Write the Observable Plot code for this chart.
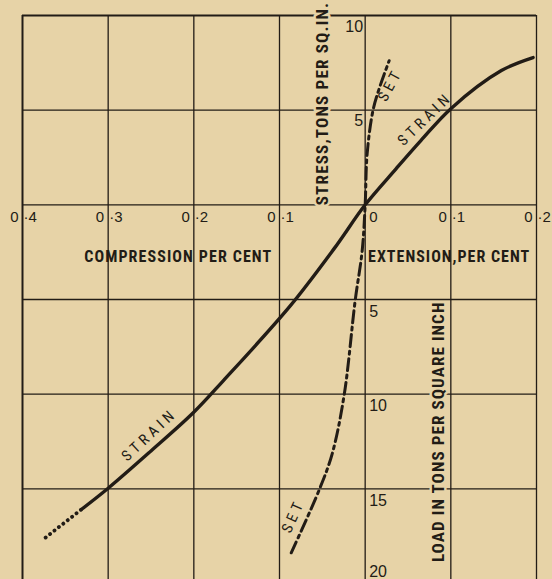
<!DOCTYPE html>
<html><head><meta charset="utf-8">
<script src="https://cdn.jsdelivr.net/npm/d3@7"></script>
<script src="https://cdn.jsdelivr.net/npm/@observablehq/plot@0.6"></script>
<style>html,body{margin:0;padding:0;background:#e7d3a7;overflow:hidden}</style>
</head><body><div id="chart"></div>
<script>
// ---- data ----
const xTicks = [-0.4, -0.3, -0.2, -0.1, 0, 0.1, 0.2];
const xTickLabels = ["0·4", "0·3", "0·2", "0·1", "0", "0·1", "0·2"];
const gridY = [10, 5, 0, -5, -10, -15];
const stressTicks = [10, 5];
const stressLabels = ["10", "5"];
const loadTicks = [5, 10, 15];
const loadLabels = ["5", "10", "15"];
const loadLast = 20;

const strainX = [-0.373, -0.331, -0.300, -0.250, -0.201, -0.166, -0.0875, -0.036, 0, 0.036, 0.065, 0.100, 0.159, 0.196];
const strainY = [-17.57, -16.08, -14.97, -13.0, -11.0, -9.31, -5.34, -2.3, 0, 1.90, 3.39, 5.08, 7.09, 7.78];
const strainDottedCount = 2; // first points drawn dotted

const setX = [-0.0863, -0.0537, -0.0385, -0.0245, -0.0117, -0.0035, 0, 0.0023, 0.0093, 0.0175, 0.028];
const setY = [-18.38, -15.06, -13.15, -10.04, -5.07, -2.43, 0, 2.69, 5.02, 6.29, 7.61];

// ---- styles ----
const BG = "#e7d3a7", INK = "#221c16";
const NARROW = '"Liberation Sans Narrow", "Arial Narrow", "Roboto Condensed", "DejaVu Sans Condensed", sans-serif';
const REG = '"Liberation Sans", Arial, sans-serif';

const strain = strainX.map((x, i) => ({x, y: strainY[i]}));
const set = setX.map((x, i) => ({x, y: setY[i]}));
const xl = xTicks.map((v, i) => {
  const [w, f] = xTickLabels[i].split("·");
  return {v, whole: w, frac: f === undefined ? null : "·" + f};
});

const tag = (name) => () => name;

const chart = Plot.plot({
  width: 552, height: 579,
  marginLeft: 22, marginRight: 16, marginTop: 15, marginBottom: 0,
  x: {domain: [-0.4, 0.2], axis: null},
  y: {domain: [-19.79, 10], axis: null},
  style: {background: BG, overflow: "visible"},
  marks: [
    Plot.ruleX(xTicks, {x: d => d, stroke: INK, strokeWidth: d => (d === -0.4 ? 2 : 1.3)}),
    Plot.ruleY(gridY, {y: d => d, stroke: INK, strokeWidth: d => (d === 10 ? 2 : 1.3)}),
    // vertical titles with halo
    Plot.text(["STRESS,TONS PER SQ.IN."], {x: -0.0502, y: 5.35, text: d => d, rotate: -90,
      fontFamily: NARROW, fontSize: 17, fontWeight: "bold", fill: INK, stroke: BG, strokeWidth: 5,
      paintOrder: "stroke", lineAnchor: "middle", ariaLabel: tag("t12")}),
    Plot.text(["LOAD IN TONS PER SQUARE INCH"], {x: 0.0852, y: -11.99, text: d => d, rotate: -90,
      fontFamily: NARROW, fontSize: 17, fontWeight: "bold", fill: INK, stroke: BG, strokeWidth: 5,
      paintOrder: "stroke", lineAnchor: "middle", ariaLabel: tag("t11")}),
    Plot.text(["COMPRESSION PER CENT"], {x: -0.2182, y: -2.75, text: d => d,
      fontFamily: NARROW, fontSize: 16, fontWeight: "bold", fill: INK, lineAnchor: "middle", ariaLabel: tag("t11")}),
    Plot.text(["EXTENSION,PER CENT"], {x: 0.098, y: -2.75, text: d => d,
      fontFamily: NARROW, fontSize: 16, fontWeight: "bold", fill: INK, lineAnchor: "middle", ariaLabel: tag("t10")}),
    // curves
    Plot.line(strain.slice(0, strainDottedCount), {x: "x", y: "y", stroke: INK, strokeWidth: 3.8,
      strokeDasharray: "0.1,5.5", strokeLinecap: "round"}),
    Plot.line(strain.slice(strainDottedCount - 1), {x: "x", y: "y", stroke: INK, strokeWidth: 3.4, curve: "catmull-rom"}),
    Plot.line(set, {x: "x", y: "y", stroke: INK, strokeWidth: 3, strokeDasharray: "12,4.5,3,4.5", curve: "catmull-rom"}),
    // curve labels
    Plot.text(["STRAIN"], {x: 0.070, y: 4.54, text: d => d, rotate: -44, fontFamily: NARROW, fontSize: 15,
      fill: INK, lineAnchor: "middle", ariaLabel: tag("t40")}),
    Plot.text(["STRAIN"], {x: -0.252, y: -12.15, text: d => d, rotate: -43, fontFamily: NARROW, fontSize: 15,
      fill: INK, lineAnchor: "middle", ariaLabel: tag("t40")}),
    Plot.text(["SET"], {x: 0.0292, y: 6.34, text: d => d, rotate: -62, fontFamily: NARROW, fontSize: 15,
      fill: INK, lineAnchor: "middle", ariaLabel: tag("t40")}),
    Plot.text(["SET"], {x: -0.084, y: -16.43, text: d => d, rotate: -66, fontFamily: NARROW, fontSize: 15,
      fill: INK, lineAnchor: "middle", ariaLabel: tag("t40")}),
    // x tick labels
    Plot.text(xl.filter(d => d.frac), {x: "v", y: 0, text: "whole", textAnchor: "end", dx: -4, dy: 12,
      fontFamily: REG, fontSize: 15, fill: INK, lineAnchor: "middle"}),
    Plot.text(xl.filter(d => d.frac), {x: "v", y: 0, text: "frac", textAnchor: "start", dx: 1, dy: 12,
      fontFamily: REG, fontSize: 15, fill: INK, lineAnchor: "middle"}),
    Plot.text(xl.filter(d => !d.frac), {x: "v", y: 0, text: "whole", textAnchor: "start", dx: 4, dy: 12,
      fontFamily: REG, fontSize: 15, fill: INK, lineAnchor: "middle"}),
    // y tick labels
    Plot.text(stressTicks, {x: 0, y: d => d, text: (d, i) => stressLabels[i], textAnchor: "end", dx: -2, dy: 11,
      fontFamily: REG, fontSize: 16, fill: INK, lineAnchor: "middle"}),
    Plot.text(loadTicks, {x: 0, y: d => -d, text: (d, i) => loadLabels[i], textAnchor: "start", dx: 4, dy: 12,
      fontFamily: REG, fontSize: 16, fill: INK, lineAnchor: "middle"}),
    Plot.text([loadLast], {x: 0, y: d => -d, text: d => String(d), textAnchor: "start", dx: 4, dy: -12,
      fontFamily: REG, fontSize: 16, fill: INK, lineAnchor: "middle"})
  ]
});

// letter spacing tweaks
chart.querySelectorAll("text[aria-label]").forEach(t => {
  const a = t.getAttribute("aria-label");
  if (/^t\d+$/.test(a)) t.style.letterSpacing = (parseInt(a.slice(1)) / 10) + "px";
});
document.getElementById("chart").appendChild(chart);
</script>
</body></html>
